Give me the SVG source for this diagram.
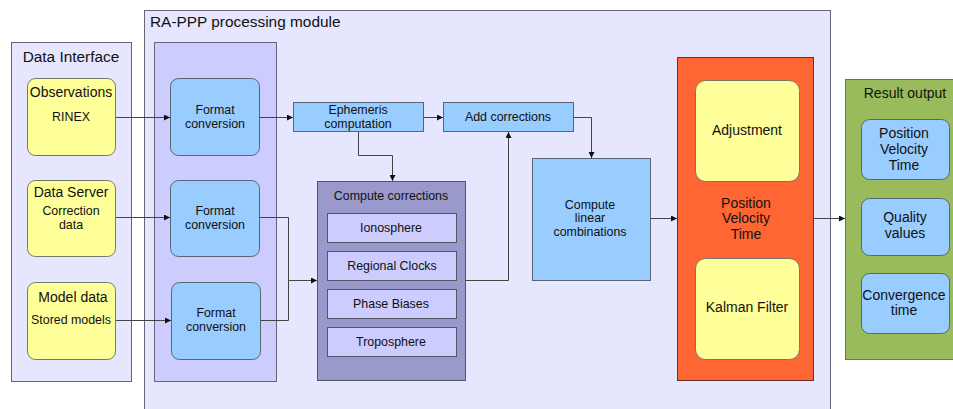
<svg xmlns="http://www.w3.org/2000/svg" width="953" height="409" viewBox="0 0 953 409">
<style>
text{font-family:"Liberation Sans",Arial,sans-serif;fill:#111;text-anchor:middle}
.grp{stroke:#666677;stroke-width:1}
.lav{fill:#e6e6ff}
.col{fill:#ccccff}
.yel{fill:#ffff99;stroke:#777766;stroke-width:1}
.blu{fill:#99ccff;stroke:#556677;stroke-width:1}
.cc{fill:#9999cc;stroke:#555566;stroke-width:1}
.sub{fill:#ccccff;stroke:#555566;stroke-width:1}
.ora{fill:#ff6633;stroke:#663322;stroke-width:1}
.grn{fill:#99bb5c;stroke:#667755;stroke-width:1}
.t15{font-size:15.4px}
.t14{font-size:14px}
.t12{font-size:12.4px}
.conn path{fill:none;stroke:#444;stroke-width:1;marker-end:url(#arr)}
</style>
<defs>
<marker id="arr" viewBox="0 0 10 10" refX="10" refY="5" markerWidth="8" markerHeight="6" markerUnits="userSpaceOnUse" orient="auto">
<path d="M0,0 L10,5 L0,10 z" fill="#111"/>
</marker>
</defs>
<rect width="953" height="409" fill="#ffffff"/>

<g id="data-interface">
<rect class="grp lav" x="11.5" y="42.5" width="120" height="339"/>
<text class="t15" x="71" y="62">Data Interface</text>
</g>
<g id="rappp-module">
<rect class="grp lav" x="144.5" y="10.5" width="686" height="410"/>
<text class="t15" x="150" y="27" style="text-anchor:start">RA-PPP processing module</text>
</g>
<g id="format-column">
<rect class="grp col" x="154.5" y="42.5" width="122" height="339"/>
</g>

<g id="observations">
<rect class="yel" x="27.5" y="78.5" width="88" height="77" rx="8"/>
<text class="t14" x="71" y="97">Observations</text>
<text class="t12" x="71" y="121">RINEX</text>
</g>
<g id="data-server">
<rect class="yel" x="27.5" y="180.5" width="88" height="76" rx="8"/>
<text class="t14" x="71" y="197">Data Server</text>
<text class="t12" x="71" y="215">Correction</text>
<text class="t12" x="71" y="229">data</text>
</g>
<g id="model-data">
<rect class="yel" x="27.5" y="282.5" width="88" height="77" rx="8"/>
<text class="t14" x="73" y="302">Model data</text>
<text class="t12" x="71" y="324">Stored models</text>
</g>

<g id="format1">
<rect class="blu" x="170.5" y="78.5" width="89" height="77" rx="8"/>
<text class="t12" x="215" y="114">Format</text>
<text class="t12" x="215" y="128">conversion</text>
</g>
<g id="format2">
<rect class="blu" x="170.5" y="180.5" width="89" height="76" rx="8"/>
<text class="t12" x="215" y="215">Format</text>
<text class="t12" x="215" y="229">conversion</text>
</g>
<g id="format3">
<rect class="blu" x="171.5" y="282.5" width="89" height="77" rx="8"/>
<text class="t12" x="216" y="317">Format</text>
<text class="t12" x="216" y="331">conversion</text>
</g>

<g id="ephemeris">
<rect class="blu" x="293.5" y="102.5" width="130" height="29"/>
<text class="t12" x="358" y="114">Ephemeris</text>
<text class="t12" x="358" y="128">computation</text>
</g>
<g id="add-corrections">
<rect class="blu" x="443.5" y="102.5" width="130" height="29"/>
<text class="t12" x="508" y="121">Add corrections</text>
</g>

<g id="compute-corrections">
<rect class="cc" x="317.5" y="181.5" width="148" height="199"/>
<text class="t12" x="391" y="200">Compute corrections</text>
<rect class="sub" x="327.5" y="213.5" width="129" height="29"/>
<text class="t12" x="391" y="232">Ionosphere</text>
<rect class="sub" x="327.5" y="251.5" width="129" height="29"/>
<text class="t12" x="392" y="270">Regional Clocks</text>
<rect class="sub" x="327.5" y="289.5" width="129" height="29"/>
<text class="t12" x="391" y="308">Phase Biases</text>
<rect class="sub" x="327.5" y="327.5" width="129" height="29"/>
<text class="t12" x="391" y="346">Troposphere</text>
</g>

<g id="linear-combinations">
<rect class="blu" x="532.5" y="158.5" width="118" height="122"/>
<text class="t12" x="590" y="209">Compute</text>
<text class="t12" x="590" y="222">linear</text>
<text class="t12" x="590" y="236">combinations</text>
</g>

<g id="pvt">
<rect class="ora" x="677.5" y="57.5" width="136" height="323"/>
<rect class="yel" x="695.5" y="80.5" width="104" height="101" rx="10"/>
<text class="t14" x="747" y="135">Adjustment</text>
<text class="t14" x="746" y="208">Position</text>
<text class="t14" x="746" y="223">Velocity</text>
<text class="t14" x="746" y="239">Time</text>
<rect class="yel" x="695.5" y="258.5" width="104" height="101" rx="10"/>
<text class="t14" x="747" y="312">Kalman Filter</text>
</g>

<g id="result-output">
<rect class="grn" x="845.5" y="79.5" width="120" height="280"/>
<text class="t14" x="905" y="98">Result output</text>
<rect class="blu" x="861.5" y="119.5" width="88" height="60" rx="8"/>
<text class="t14" x="904" y="138">Position</text>
<text class="t14" x="904" y="154">Velocity</text>
<text class="t14" x="904" y="170">Time</text>
<rect class="blu" x="861.5" y="198.5" width="88" height="57" rx="8"/>
<text class="t14" x="905" y="222">Quality</text>
<text class="t14" x="905" y="238">values</text>
<rect class="blu" x="861.5" y="273.5" width="88" height="60" rx="8"/>
<text class="t14" x="904" y="300">Convergence</text>
<text class="t14" x="904" y="315">time</text>
</g>

<g id="connectors" class="conn">
<path d="M116,117.5 H170"/>
<path d="M260,117.5 H293"/>
<path d="M423,117.5 H443"/>
<path d="M358.5,132 V155.5 H392.5 V181"/>
<path d="M573,117.5 H591.5 V158"/>
<path d="M466,280.5 H508.5 V132"/>
<path d="M116,217.5 H170"/>
<path d="M116,320.5 H171"/>
<path d="M260,217.5 H288.5 V280.5 H317"/>
<path d="M261,320.5 H288.5 V280.5" style="marker-end:none"/>
<path d="M651,218.5 H677"/>
<path d="M814,218.5 H845"/>
</g>
</svg>
